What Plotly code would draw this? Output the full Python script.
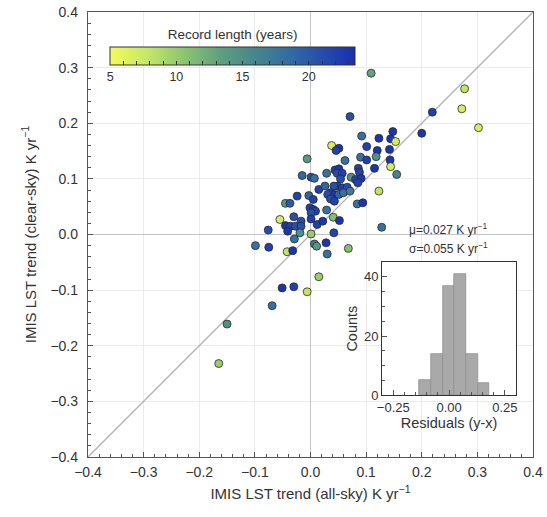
import plotly.graph_objects as go

# ---- data ----
all_sky = [0.071, 0.092, 0.123, 0.148, 0.144, 0.153, 0.038, 0.051, 0.046, 0.101,
           0.120, 0.142, -0.006, 0.062, 0.090, 0.101, 0.118, 0.143, 0.115, 0.144,
           0.155, 0.086, 0.088, 0.029, 0.044, 0.051, 0.048, 0.057, -0.015, 0.001,
           0.007, 0.073, 0.081, 0.091, 0.085, 0.054, 0.048, 0.042, 0.057, 0.066,
           0.015, 0.026, 0.036, 0.031, 0.043, 0.051, 0.059, 0.071, 0.123, -0.024,
           -0.003, 0.005, 0.036, 0.043, -0.045, -0.037, 0.084, 0.094, -0.001, 0.005,
           0.009, 0.001, 0.029, -0.055, -0.030, -0.017, -0.045, -0.036, -0.027, -0.017,
           0.001, 0.012, 0.022, 0.041, 0.052, -0.076, -0.041, -0.019, 0.001, 0.042,
           0.128, -0.029, -0.099, -0.075, -0.042, -0.032, 0.007, 0.011, 0.028, 0.068,
           0.030, 0.015, 0.109, 0.277, 0.272, 0.302, 0.219, 0.200, -0.051, -0.030,
           -0.006, -0.069, -0.150, -0.165]
clear_sky = [0.212, 0.177, 0.173, 0.185, 0.172, 0.167, 0.160, 0.155, 0.151, 0.158,
             0.151, 0.153, 0.136, 0.133, 0.139, 0.134, 0.140, 0.134, 0.119, 0.122,
             0.108, 0.119, 0.112, 0.110, 0.116, 0.118, 0.110, 0.110, 0.106, 0.103,
             0.101, 0.103, 0.099, 0.101, 0.093, 0.100, 0.087, 0.087, 0.084, 0.085,
             0.081, 0.087, 0.075, 0.072, 0.072, 0.072, 0.075, 0.078, 0.078, 0.069,
             0.070, 0.063, 0.064, 0.060, 0.056, 0.056, 0.055, 0.057, 0.048, 0.045,
             0.042, 0.039, 0.044, 0.027, 0.032, 0.024, 0.016, 0.015, 0.015, 0.015,
             0.028, 0.018, 0.024, 0.031, 0.025, 0.008, 0.006, 0.003, 0.001, 0.003,
             0.013, -0.008, -0.020, -0.023, -0.031, -0.029, -0.017, -0.021, -0.015, -0.025,
             -0.035, -0.076, 0.290, 0.262, 0.226, 0.192, 0.220, 0.182, -0.096, -0.094,
             -0.103, -0.128, -0.161, -0.232]
record_length = [21, 18, 23, 23, 23, 7, 7, 23, 22, 22,
                 23, 23, 14, 18, 18, 22, 15, 23, 23, 7,
                 16, 22, 22, 18, 22, 23, 21, 22, 19, 21,
                 18, 15, 22, 23, 22, 21, 22, 21, 22, 21,
                 22, 19, 22, 21, 23, 19, 18, 17, 8, 22,
                 19, 22, 21, 22, 14, 20, 18, 23, 22, 23,
                 22, 21, 18, 7, 21, 21, 23, 22, 21, 21,
                 22, 22, 23, 11, 23, 21, 23, 15, 10, 22,
                 18, 18, 18, 22, 8, 23, 17, 14, 23, 11,
                 18, 10, 13, 8, 7, 7, 22, 23, 23, 22,
                 8, 18, 15, 10]

hist_edges = [-0.134, -0.0815, -0.029, 0.0235, 0.076, 0.1285, 0.181]
hist_counts = [5, 14, 37, 41, 14, 4]

axis_range = [-0.4, 0.4]
main_ticks = [-0.4, -0.3, -0.2, -0.1, 0.0, 0.1, 0.2, 0.3, 0.4]
inset_x_ticks = [-0.25, 0.0, 0.25]
inset_x_labels = ["\u22120.25", "0.00", "0.25"]
inset_y_ticks = [0, 20, 40]
cbar_ticks = list(range(5, 24))
cbar_labels = [str(v) if v % 5 == 0 else "" for v in cbar_ticks]

mu_text = "\u03bc=0.027 K yr<sup>\u22121</sup>"
sigma_text = "\u03c3=0.055 K yr<sup>\u22121</sup>"

# ---- styling ----
FONT = "Liberation Sans, Arial, sans-serif"
TXT = "#333333"
SPINE = "#555555"
GRID = "#ebebeb"

colorscale = [
    [0.0, "#f6fb5b"],
    [0.15, "#c6e767"],
    [0.30, "#8dc570"],
    [0.45, "#5ea07e"],
    [0.60, "#45858d"],
    [0.75, "#3168a4"],
    [0.90, "#2346ae"],
    [1.0, "#1a2db0"],
]

centers = [(a + b) / 2 for a, b in zip(hist_edges[:-1], hist_edges[1:])]
widths = [b - a for a, b in zip(hist_edges[:-1], hist_edges[1:])]

fig = go.Figure()

# 1:1 line
fig.add_trace(go.Scatter(
    x=axis_range, y=axis_range, mode="lines",
    line=dict(color="#b3b3b3", width=1.3), hoverinfo="skip", showlegend=False))

fig.add_trace(go.Scatter(
    x=all_sky, y=clear_sky, mode="markers", showlegend=False,
    marker=dict(size=8, color=record_length, colorscale=colorscale,
                cmin=5, cmax=23.5, opacity=1.0,
                line=dict(color="#2b2b2b", width=0.8),
                colorbar=dict(
                    orientation="h", x=0.325, xanchor="center",
                    y=0.955, yanchor="top", len=0.55, lenmode="fraction",
                    thickness=18, outlinecolor="#333333", outlinewidth=1,
                    xpad=0, ypad=0,
                    tickvals=cbar_ticks, ticktext=cbar_labels,
                    ticks="inside", ticklen=4, tickcolor="#333333",
                    tickfont=dict(family=FONT, size=12.5, color=TXT),
                    title=dict(text="Record length (years)", side="top",
                               font=dict(family=FONT, size=13.5, color=TXT)),
                ))))

# inset histogram
fig.add_trace(go.Bar(
    x=centers, y=hist_counts, width=widths, xaxis="x2", yaxis="y2",
    marker=dict(color="#a9a9a9", line=dict(color="#8f8f8f", width=0.8)),
    showlegend=False))

fig.update_layout(
    template="none",
    width=547, height=517,
    margin=dict(l=88, r=14, t=12, b=60, autoexpand=False),
    paper_bgcolor="white", plot_bgcolor="white",
    font=dict(family=FONT, color=TXT),
    bargap=0,
    xaxis=dict(
        domain=[0, 1], range=axis_range, tickvals=main_ticks, tickformat=".1f",
        automargin=False,
        ticks="inside", ticklen=5, tickcolor=SPINE,
        minor=dict(ticks="inside", dtick=0.02, ticklen=3, tickcolor=SPINE, showgrid=False),
        showline=True, linecolor=SPINE, linewidth=1.3, mirror=True,
        showgrid=True, gridcolor=GRID, gridwidth=1,
        zeroline=True, zerolinecolor="#c4c4c4", zerolinewidth=1,
        tickfont=dict(family=FONT, size=14, color=TXT),
        ticklabelstandoff=2,
        title=dict(text="IMIS LST trend (all-sky) K yr<sup>\u22121</sup>",
                   font=dict(family=FONT, size=15, color=TXT), standoff=9),
    ),
    yaxis=dict(
        domain=[0, 1], range=axis_range, tickvals=main_ticks, tickformat=".1f",
        automargin=False,
        ticks="inside", ticklen=5, tickcolor=SPINE,
        minor=dict(ticks="inside", dtick=0.02, ticklen=3, tickcolor=SPINE, showgrid=False),
        showline=True, linecolor=SPINE, linewidth=1.3, mirror=True,
        showgrid=True, gridcolor=GRID, gridwidth=1,
        zeroline=True, zerolinecolor="#c4c4c4", zerolinewidth=1,
        tickfont=dict(family=FONT, size=14, color=TXT),
        ticklabelstandoff=6,
        title=dict(text="IMIS LST trend (clear-sky) K yr<sup>\u22121</sup>",
                   font=dict(family=FONT, size=15, color=TXT), standoff=10),
    ),
    xaxis2=dict(
        domain=[0.661, 0.962], anchor="y2", range=[-0.3, 0.3],
        automargin=False,
        tickvals=inset_x_ticks, ticktext=inset_x_labels,
        ticks="inside", ticklen=5, tickcolor=SPINE,
        minor=dict(ticks="inside", dtick=0.05, ticklen=3, tickcolor=SPINE, showgrid=False),
        showline=True, linecolor="#333333", linewidth=1.3, mirror=True,
        showgrid=False, zeroline=False,
        tickfont=dict(family=FONT, size=13, color=TXT),
        title=dict(text="Residuals (y-x)", font=dict(family=FONT, size=14.5, color=TXT), standoff=2),
    ),
    yaxis2=dict(
        domain=[0.139, 0.438], anchor="x2", range=[0, 45],
        automargin=False,
        tickvals=inset_y_ticks,
        ticks="inside", ticklen=5, tickcolor=SPINE,
        minor=dict(ticks="inside", dtick=5, ticklen=3, tickcolor=SPINE, showgrid=False),
        showline=True, linecolor="#333333", linewidth=1.3, mirror=True,
        showgrid=False, zeroline=False,
        tickfont=dict(family=FONT, size=13, color=TXT),
        title=dict(text="Counts", font=dict(family=FONT, size=14.5, color=TXT), standoff=2),
    ),
    shapes=[dict(type="rect", xref="x2", yref="y2", x0=-0.3, x1=0.3, y0=0, y1=45,
                 fillcolor="white", line=dict(width=0), layer="below")],
    annotations=[
        dict(text=mu_text, xref="paper", yref="paper", x=0.811, y=0.512,
             xanchor="center", yanchor="middle",
             showarrow=False, font=dict(family=FONT, size=12, color=TXT)),
        dict(text=sigma_text, xref="paper", yref="paper", x=0.811, y=0.470,
             xanchor="center", yanchor="middle",
             showarrow=False, font=dict(family=FONT, size=12, color=TXT)),
    ],
)

fig.write_html("out.html", config={"displayModeBar": False},
               post_script="document.body.style.margin='0';document.body.style.overflow='hidden';")
